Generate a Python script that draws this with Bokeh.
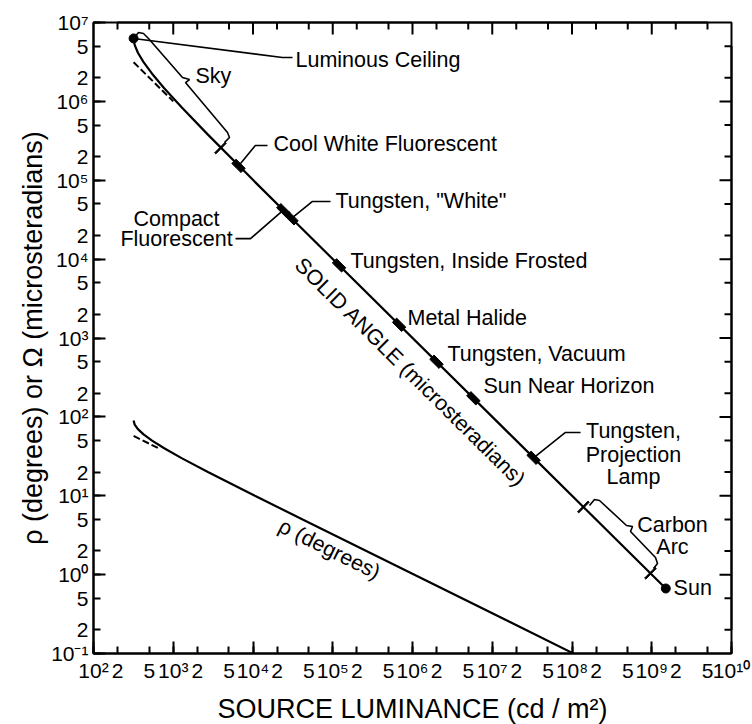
from bokeh.plotting import figure
from bokeh.models import FixedTicker, Range1d
from bokeh.core.properties import value
from bokeh.embed import file_html
from bokeh.resources import INLINE

FONT = "Liberation Sans"

# ---- data ----
# solid angle curve: source luminance (cd/m2) vs solid angle (microsteradians)
omega_L = [318.3, 328.2, 360.5, 424.4, 542.4, 770.4, 1273, 2721, 10557, 41904, 1.5e9]
omega_val = [6.283e6, 5.193e6, 4.134e6, 3.142e6, 2.244e6, 1.470e6, 8.418e5, 3.789e5, 9.545e4, 2.391e4, 0.667]
# rho curve: source luminance vs rho (degrees)
rho_L = [318.3, 328.2, 360.5, 424.4, 542.4, 770.4, 1273, 2721, 10557, 41904, 1.1e8]
rho_val = [90, 80, 70, 60, 50, 40, 30, 20, 10, 5, 0.0975]
# dashed asymptotes
omega_dash_L = [318.3, 1000]
omega_dash_val = [3.14e6, 1.0e6]
rho_dash_L = [318.3, 650]
rho_dash_val = [57.3, 40.1]

# lamps on the solid angle line
lamp_names = ["Cool White Fluorescent", "Compact Fluorescent", 'Tungsten, "White"',
              "Tungsten, Inside Frosted", "Metal Halide", "Tungsten, Vacuum",
              "Sun Near Horizon", "Tungsten, Projection Lamp"]
lamp_L = [6.58e3, 2.4e4, 3.04e4, 1.2e5, 6.8e5, 2.0e6, 5.8e6, 3.3e7]
lamp_omega = [1.52e5, 4.17e4, 3.29e4, 8.33e3, 1.47e3, 500, 172, 30.3]

# range end marks (Sky lower end, Carbon Arc ends)
end_L = [3.91e3, 1.39e8, 9.64e8]
end_omega = [2.56e5, 7.2, 1.04]

# end dots: Luminous Ceiling, Sun
dot_L = [318.3, 1.5e9]
dot_omega = [6.283e6, 0.667]

# tick values (decade exponents)
x_decades = list(range(2, 11))
y_decades = list(range(-1, 8))

# ---- annotations (positions in data units) ----
labels = [
    ("Luminous Ceiling", 3.41e4, 3.3e6, "left"),
    ("Sky", 1901, 2.07e6, "left"),
    ("Cool White Fluorescent", 1.81e4, 2.84e5, "left"),
    ('Tungsten, "White"', 1.08e5, 5.38e4, "left"),
    ("Compact", 1.1e3, 3.27e4, "center"),
    ("Fluorescent", 1.1e3, 1.82e4, "center"),
    ("Tungsten, Inside Frosted", 1.67e5, 9.6e3, "left"),
    ("Metal Halide", 8.65e5, 1.77e3, "left"),
    ("Tungsten, Vacuum", 2.75e6, 618, "left"),
    ("Sun Near Horizon", 7.76e6, 243, "left"),
    ("Tungsten,", 5.9e8, 65.3, "center"),
    ("Projection", 5.9e8, 32.4, "center"),
    ("Lamp", 5.9e8, 17.5, "center"),
    ("Carbon", 1.82e9, 4.31, "center"),
    ("Arc", 1.82e9, 2.21, "center"),
    ("Sun", 1.88e9, 0.667, "left"),
]
rot_labels = [
    ("SOLID ANGLE (microsteradians)", 9.44e5, 365, -0.78),
    ("\u03c1 (degrees)", 9.1e4, 2.1, -0.46),
]
leaders_x = [
    [318.3, 2.34e4, 3.13e4],
    [6.58e3, 1.07e4, 1.52e4],
    [3.04e4, 5.57e4, 9.37e4],
    [6.04e3, 9.3e3, 2.4e4],
    [3.3e7, 8.28e7, 1.28e8],
]
leaders_y = [
    [6.283e6, 3.6e6, 3.6e6],
    [1.52e5, 2.76e5, 2.76e5],
    [3.29e4, 5.38e4, 5.38e4],
    [1.82e4, 1.82e4, 4.17e4],
    [30.3, 63.4, 63.4],
]
braces_x = [
    [318.3, 366.7, 423.6, 489.5, 1306, 1599, 1424, 4789, 5074, 4391],
    [1.658e8, 1.915e8, 2.212e8, 4.825e8, 5.737e8, 5.415e8, 1.114e9, 1.181e9, 1.052e9],
]
braces_y = [
    [6.283e6, 7.47e6, 7.25e6, 6.27e6, 2.01e6, 1.89e6, 1.73e6, 4.03e5, 3.48e5, 3.01e5],
    [7.52, 8.97, 8.71, 4.20, 4.08, 3.52, 1.649, 1.384, 1.196],
]

SUP = str.maketrans("0123456789-", "\u2070\u00b9\u00b2\u00b3\u2074\u2075\u2076\u2077\u2078\u2079\u207b")


def tick_setup(decades):
    ticks, overrides, minors, subs = [], {}, [], []
    for i, d in enumerate(decades):
        v = 10.0 ** d
        ticks.append(v)
        minors.append(v)
        overrides[v] = "10" + str(d).translate(SUP)
        if i < len(decades) - 1:
            for m in (2, 5):
                mv = m * v
                ticks.append(mv)
                subs.append(mv)
                overrides[mv] = str(m)
    return ticks, overrides, minors, subs


xt, xo, xm, xs = tick_setup(x_decades)
yt, yo, ym, ys = tick_setup(y_decades)
XMIN, XMAX = 10.0 ** x_decades[0], 10.0 ** x_decades[-1]
YMIN, YMAX = 10.0 ** y_decades[0], 10.0 ** y_decades[-1]

p = figure(frame_width=638, frame_height=631,
           x_axis_type="log", y_axis_type="log",
           x_range=Range1d(XMIN, XMAX), y_range=Range1d(YMIN, YMAX),
           output_backend="svg", toolbar_location=None,
           min_border_left=93, min_border_top=22, min_border_right=21, min_border_bottom=71)
p.xgrid.visible = False
p.ygrid.visible = False
p.outline_line_color = "black"
p.outline_line_width = 2
p.background_fill_color = "white"
p.border_fill_color = "white"


def style_axis(ax, ticks, overrides, minors):
    ax.ticker = FixedTicker(ticks=ticks, minor_ticks=minors)
    ax.axis_line_color = "black"
    ax.axis_line_width = 2
    ax.major_tick_in = 7
    ax.major_tick_out = 0
    ax.minor_tick_in = 12
    ax.minor_tick_out = 0
    ax.major_tick_line_width = 2
    ax.minor_tick_line_width = 2
    ax.major_tick_line_color = "black"
    ax.minor_tick_line_color = "black"
    ax.major_label_overrides = overrides
    ax.major_label_text_font = FONT
    ax.major_label_text_font_size = "21px"
    ax.major_label_text_color = "black"
    ax.major_label_standoff = 5
    ax.axis_label_text_font = FONT
    ax.axis_label_text_font_size = "27px"
    ax.axis_label_text_font_style = "normal"
    ax.axis_label_text_color = "black"


xaxis = p.below[0]
yaxis = p.left[0]
style_axis(xaxis, xt, xo, xm)
style_axis(yaxis, yt, yo, ym)
xaxis.axis_label = "SOURCE LUMINANCE (cd / m\u00b2)"
xaxis.axis_label_standoff = 9
yaxis.axis_label = "\u03c1 (degrees) or \u03a9 (microsteradians)"
yaxis.axis_label_standoff = 0

# inward ticks on the top and right edges, each edge drawn as one "comb" polyline
# (lengths in decades: ~12 px for decade ticks, ~7 px for the 2 and 5 ticks);
# a detached anchor point deep inside keeps the comb's extent inside the view
LONG_X, SHORT_X = 12 / 79.75, 7 / 79.75
LONG_Y, SHORT_Y = 12 / 78.875, 7 / 78.875
NAN = float("nan")
comb_top_x, comb_top_y = [], []
for v in xt:
    if XMIN < v < XMAX:
        inner = YMAX / 10 ** (LONG_Y if v in xm else SHORT_Y)
        comb_top_x += [v, v, v]
        comb_top_y += [YMAX, inner, YMAX]
comb_top_x += [NAN, 1e6]
comb_top_y += [NAN, 1e3]
comb_right_x, comb_right_y = [], []
for v in yt:
    if YMIN < v < YMAX:
        inner = XMAX / 10 ** (LONG_X if v in ym else SHORT_X)
        comb_right_x += [XMAX, inner, XMAX]
        comb_right_y += [v, v, v]
comb_right_x += [NAN, 1e6]
comb_right_y += [NAN, 1e3]
p.multi_line([comb_top_x, comb_right_x], [comb_top_y, comb_right_y],
             line_color="black", line_width=2, level="overlay")

# curves
p.line(omega_L, omega_val, line_color="black", line_width=2.2)
p.line(rho_L, rho_val, line_color="black", line_width=2.2)
p.line(omega_dash_L, omega_dash_val, line_color="black", line_width=2, line_dash="7 3")
p.line(rho_dash_L, rho_dash_val, line_color="black", line_width=2, line_dash="7 3")

# leaders and braces
p.multi_line(leaders_x, leaders_y, line_color="black", line_width=1.6)
p.multi_line(braces_x, braces_y, line_color="black", line_width=1.6)

# lamp marks
p.rect(lamp_L, lamp_omega, width=13, height=6, width_units="screen", height_units="screen",
       angle=-0.78, fill_color="black", line_color="black")
p.rect(end_L, end_omega, width=1.6, height=15, width_units="screen", height_units="screen",
       angle=-0.78, fill_color="black", line_color="black")
p.scatter(dot_L, dot_omega, size=9, marker="circle", fill_color="black", line_color="black")

# text labels
for align in ("left", "center"):
    sel = [l for l in labels if l[3] == align]
    p.text([l[1] for l in sel], [l[2] for l in sel], text=[l[0] for l in sel],
           text_font=value(FONT), text_font_size="21.5px", text_color="black",
           text_align=align, text_baseline="middle")
for t, x, y, a in rot_labels:
    p.text([x], [y], text=[t], angle=a, text_font=value(FONT), text_font_size="21.5px",
           text_color="black", text_align="center", text_baseline="middle")

open("out.html", "w").write(file_html(p, INLINE))
